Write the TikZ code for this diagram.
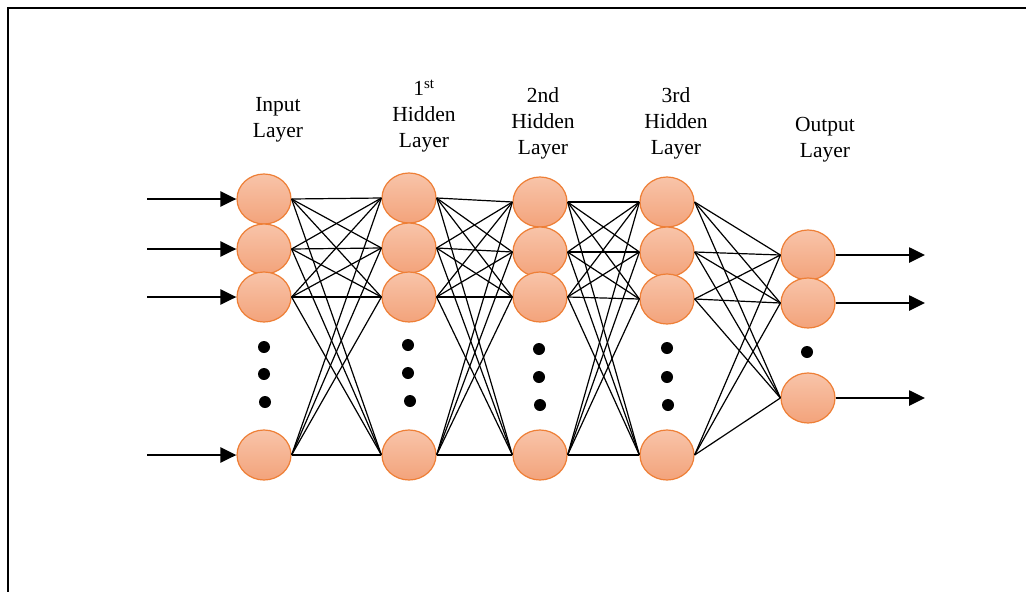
\documentclass[tikz,border=0pt]{standalone}
\usepackage{fontspec}
\setmainfont{Liberation Serif}
\usetikzlibrary{arrows.meta,shapes.geometric}
\definecolor{celltop}{HTML}{F8C4A9}
\definecolor{cellbot}{HTML}{F3A37B}
\definecolor{cellrim}{HTML}{EE7F36}

\begin{document}
\begin{tikzpicture}[x=1pt, y=-1pt,
    neuron/.style={ellipse, draw=cellrim, line width=1.2pt, top color=celltop, bottom color=cellbot,
                   minimum width=54pt, minimum height=50pt, inner sep=0pt},
    link/.style={line width=1.2pt},
    io/.style={line width=2.6pt, -{Triangle[length=16pt,width=15pt]}},
    lbl/.style={align=center, font=\fontsize{21.5}{26}\selectfont}]
    \useasboundingbox (0,0) rectangle (1026,592);
    \draw[line width=2pt] (8,600) -- (8,8) -- (1030,8); % outer frame

    % layer titles
    \node[lbl] (tin)  at (278,120) {Input\\Layer};
    \node[lbl] (thA)  at (424,116) {1\textsuperscript{st}\\Hidden\\Layer};
    \node[lbl] (thB)  at (543,123) {2nd\\Hidden\\Layer};
    \node[lbl] (thC)  at (676,123) {3rd\\Hidden\\Layer};
    \node[lbl] (tout) at (825,140) {Output\\Layer};

    % neurons
    \node[neuron] (in1) at (264,199) {};
    \node[neuron] (in2) at (264,249) {};
    \node[neuron] (in3) at (264,297) {};
    \node[neuron] (in4) at (264,455) {};
    \node[neuron] (hA1) at (409,198) {};
    \node[neuron] (hA2) at (409,248) {};
    \node[neuron] (hA3) at (409,297) {};
    \node[neuron] (hA4) at (409,455) {};
    \node[neuron] (hB1) at (540,202) {};
    \node[neuron] (hB2) at (540,252) {};
    \node[neuron] (hB3) at (540,297) {};
    \node[neuron] (hB4) at (540,455) {};
    \node[neuron] (hC1) at (667,202) {};
    \node[neuron] (hC2) at (667,252) {};
    \node[neuron] (hC3) at (667,299) {};
    \node[neuron] (hC4) at (667,455) {};
    \node[neuron] (out1) at (808,255) {};
    \node[neuron] (out2) at (808,303) {};
    \node[neuron] (out3) at (808,398) {};

    % weights
    \foreach \a in {1,...,4}
      \foreach \b in {1,...,4} {
        \draw[link] (in\a.east) -- (hA\b.west);
        \draw[link] (hA\a.east) -- (hB\b.west);
        \draw[link] (hB\a.east) -- (hC\b.west);
      }
    \foreach \a in {1,...,4}
      \foreach \b in {1,2,3}
        \draw[link] (hC\a.east) -- (out\b.west);

    % skipped neurons
    \foreach \x/\y in {264/347,264/374,265/402, 408/345,408/373,410/401,
                       539/349,539/377,540/405, 667/348,667/377,668/405, 807/352}
      \fill (\x,\y) circle (6);

    % inputs and outputs
    \coordinate (s1) at (147,199);
    \coordinate (s2) at (147,249);
    \coordinate (s3) at (147,297);
    \coordinate (s4) at (147,455);
    \foreach \k in {1,...,4}
      \draw[io] (s\k) -- (in\k.west);
    \coordinate (t1) at (925,255);
    \coordinate (t2) at (925,303);
    \coordinate (t3) at (925,398);
    \foreach \k in {1,2,3}
      \draw[io] (out\k.east) -- (t\k);
\end{tikzpicture}
\end{document}
